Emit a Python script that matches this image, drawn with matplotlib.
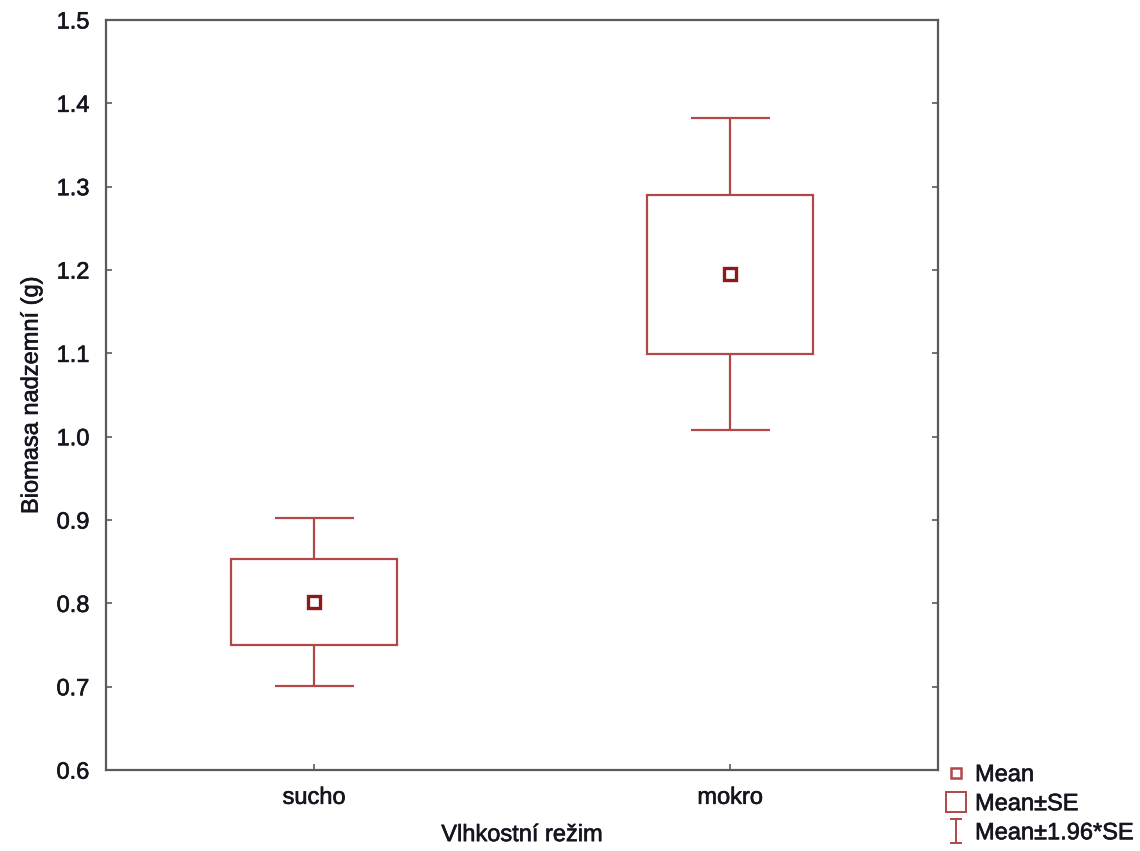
import matplotlib
matplotlib.use("Agg")
import matplotlib.pyplot as plt
import matplotlib.patheffects as pe
import numpy as np
from matplotlib.patches import Rectangle
from matplotlib.lines import Line2D
from matplotlib.path import Path

plt.rcParams['font.family'] = ['Liberation Sans', 'DejaVu Sans']

categories = ["sucho", "mokro"]
means = [0.802, 1.195]
se = [0.0515, 0.0956]
y_ticks = [0.6, 0.7, 0.8, 0.9, 1.0, 1.1, 1.2, 1.3, 1.4, 1.5]

box_color = "#b04848"
mean_color = "#8b1a1a"
spine_color = "#5a5a5a"
text_color = "#15151f"
fs = 17
thick = [pe.withStroke(linewidth=0.45, foreground=text_color)]

fig = plt.figure(figsize=(11.4, 8.51), dpi=100)
ax = fig.add_axes([0.093, 0.095, 0.730, 0.8815])

x = np.arange(len(categories))
means_a = np.array(means)
se_a = np.array(se)
box_w = 0.40
cap_w = 0.19

for xi, m, s in zip(x, means_a, se_a):
    ax.add_patch(Rectangle((xi - box_w / 2, m - s), box_w, 2 * s,
                           fill=False, edgecolor=box_color, lw=1.6, zorder=3))
lo = means_a - 1.96 * se_a
hi = means_a + 1.96 * se_a
ax.vlines(x, means_a + se_a, hi, color=box_color, lw=1.6, zorder=3)
ax.vlines(x, lo, means_a - se_a, color=box_color, lw=1.6, zorder=3)
ax.hlines(hi, x - cap_w / 2, x + cap_w / 2, color=box_color, lw=1.6, zorder=3)
ax.hlines(lo, x - cap_w / 2, x + cap_w / 2, color=box_color, lw=1.6, zorder=3)
ax.plot(x, means_a, linestyle="none", marker="s", markersize=9,
        markerfacecolor="white", markeredgecolor=mean_color,
        markeredgewidth=2.4, zorder=4)

ax.set_xlim(-0.5, 1.5)
ax.set_ylim(0.6, 1.5)
ax.set_yticks(y_ticks)
ax.set_yticklabels([f"{v:.1f}" for v in y_ticks])
ax.set_xticks(x)
ax.set_xticklabels(categories)
ax.tick_params(axis="y", pad=12)
ax.tick_params(axis="x", pad=12)
ax.tick_params(axis="both", direction="in", length=4, width=1.2,
               colors=spine_color, labelcolor=text_color, labelsize=fs,
               right=True, top=False)
for lab in ax.get_xticklabels() + ax.get_yticklabels():
    lab.set_path_effects(thick)
for sp in ax.spines.values():
    sp.set_color(spine_color)
    sp.set_linewidth(1.6)

ax.set_xlabel("Vlhkostní režim", fontsize=fs, color=text_color, labelpad=11,
              path_effects=thick)
ax.set_ylabel("Biomasa nadzemní (g)", fontsize=fs, color=text_color, labelpad=10,
              path_effects=thick)

# I-beam glyph for the 1.96*SE whisker entry
ibar = Path([(-0.55, 1), (0.55, 1), (0, 1), (0, -1), (-0.55, -1), (0.55, -1)],
            [Path.MOVETO, Path.LINETO, Path.MOVETO, Path.LINETO,
             Path.MOVETO, Path.LINETO])
handles = [
    Line2D([], [], linestyle="none", marker="s", markersize=7,
           markerfacecolor="white", markeredgecolor=box_color, markeredgewidth=1.8),
    Line2D([], [], linestyle="none", marker="s", markersize=15,
           markerfacecolor="white", markeredgecolor=box_color, markeredgewidth=1.4),
    Line2D([], [], linestyle="none", marker=ibar, markersize=17,
           markerfacecolor="none", markeredgecolor=box_color, markeredgewidth=1.4),
]
labels = ["Mean", "Mean±SE", "Mean±1.96*SE"]
leg = fig.legend(handles, labels, loc="upper left", bbox_to_anchor=(0.818, 0.116),
                 frameon=False, fontsize=fs, handlelength=1.0, handletextpad=0.3,
                 labelspacing=0.3, borderpad=0.0)
for t in leg.get_texts():
    t.set_color(text_color)
    t.set_path_effects(thick)

fig.savefig("out.png", dpi=100)
